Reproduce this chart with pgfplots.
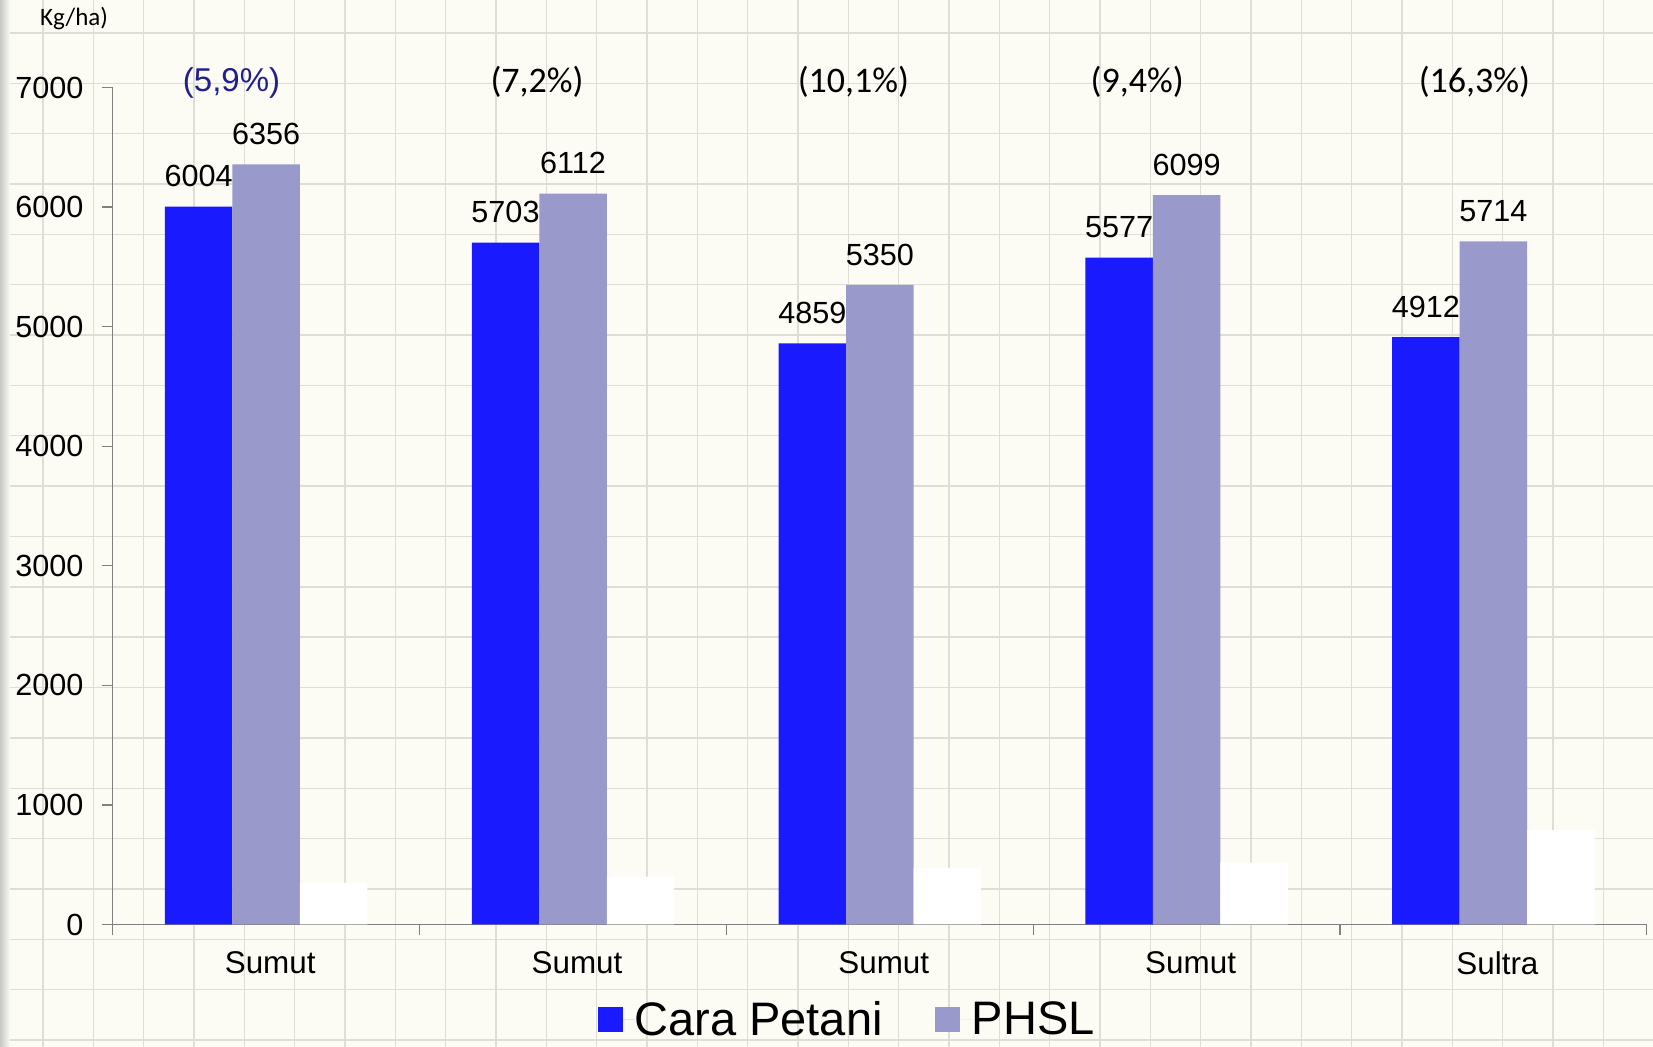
\documentclass[border=0pt]{standalone}
\usepackage{fontspec}
\setmainfont{Liberation Sans}
\newfontfamily\carlito{Carlito}
\usepackage{pgfplots}
\pgfplotsset{compat=1.18}
\definecolor{bg}{RGB}{252,252,245}
\definecolor{gridc}{RGB}{222,222,215}
\definecolor{barblue}{RGB}{26,26,255}
\definecolor{barlav}{RGB}{153,153,204}
\definecolor{navy}{RGB}{31,31,143}
\definecolor{axisgray}{RGB}{128,128,128}
\begin{document}
\begin{tikzpicture}
\useasboundingbox (-56.4pt,-61.25pt) rectangle (770.1pt,462.25pt);
\fill[bg] (-56.4pt,-61.25pt) rectangle (770.1pt,462.25pt);
\foreach \k in {0,...,32} {
  \draw[gridc, line width=0.7pt] ({(43+50.33*\k-112.8)*0.5pt},-61.25pt) -- ++(0,523.5pt);
}
\foreach \k in {0,...,20} {
  \draw[gridc, line width=0.7pt] (-56.4pt,{(924.5-33-50.35*\k)*0.5pt}) -- ++(826.5pt,0);
}
\shade[left color=black!22, right color=bg] (-56.4pt,-61.25pt) rectangle ++(5pt,523.5pt);
\node[font=\carlito\fontsize{12.5}{14}\selectfont] at (-19.4pt,452.75pt) {Kg/ha)};
\begin{axis}[
  at={(0,0)}, anchor=south west,
  scale only axis, width=767pt, height=418.5pt,
  xmin=-0.5, xmax=4.5, ymin=0, ymax=7000,
  axis lines=left,
  axis line style={draw=axisgray, line width=0.6pt, -},
  clip=false,
  /pgf/number format/.cd, 1000 sep={}, assume math mode=true, /pgfplots/.cd,
  ytick={0,1000,...,7000},
  xtick={-0.5,0.5,1.5,2.5,3.5,4.5},
  xticklabels={},
  extra x ticks={0,1,2,3,4},
  extra x tick labels={Sumut,Sumut,Sumut,Sumut,Sultra},
  extra x tick style={major tick length=0pt},
  tick align=outside,
  major tick length=5.5pt,
  tick style={draw=axisgray, line width=0.6pt},
  yticklabel style={font=\fontsize{15.3}{16}\selectfont, inner sep=0pt, xshift=-9pt},
  xticklabel style={font=\fontsize{15.7}{17}\selectfont, inner sep=0pt, yshift=-13.25pt, xshift=2pt},
  ybar, bar width=0.22,
  nodes near coords style={font=\fontsize{15.3}{16}\selectfont},
  legend style={at={(0.478,-0.114)}, anchor=center, draw=none, fill=none,
    font=\fontsize{23.5}{26}\selectfont, legend columns=2, column sep=0pt,
    nodes={inner sep=0pt},
    /tikz/every even column/.append style={column sep=26pt}},
  legend image code/.code={\fill[#1] (0pt,-6.25pt) rectangle (12.5pt,6.25pt); \path (0pt,0pt) -- (18.5pt,0pt);},
]
\addplot[fill=barblue, draw=none, bar shift=-0.22,
  nodes near coords, every node near coord/.append style={anchor=south, inner sep=0pt, yshift=9.5pt, text=black}]
  coordinates {(0,6004) (1,5703) (2,4859) (3,5577) (4,4912)};
\addplot[fill=barlav, draw=none, bar shift=0,
  nodes near coords, every node near coord/.append style={anchor=south, inner sep=0pt, yshift=9.5pt, text=black}]
  coordinates {(0,6356) (1,6112) (2,5350) (3,6099) (4,5714)};
\addplot[fill=white, draw=none, bar shift=0.22, forget plot]
  coordinates {(0,350) (1,400) (2,475) (3,520) (4,790)};
\legend{Cara Petani, PHSL}
\node[font=\fontsize{16.5}{18}\selectfont, text=navy] at (axis cs:-0.113,7040) {(5,9\%)};
\node[font=\carlito\fontsize{18}{20}\selectfont] at (axis cs:0.883,7046) {(7,2\%)};
\node[font=\carlito\fontsize{18}{20}\selectfont] at (axis cs:1.914,7046) {(10,1\%)};
\node[font=\carlito\fontsize{18}{20}\selectfont] at (axis cs:2.839,7046) {(9,4\%)};
\node[font=\carlito\fontsize{18}{20}\selectfont] at (axis cs:3.938,7046) {(16,3\%)};
\end{axis}
\end{tikzpicture}
\end{document}
